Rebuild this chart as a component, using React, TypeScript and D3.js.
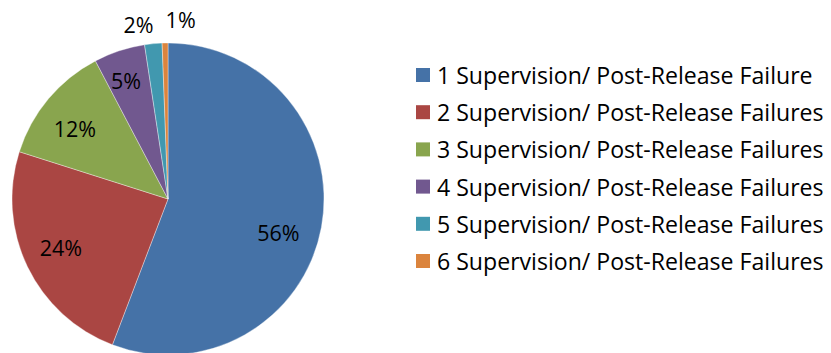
import React from "react";
import * as d3 from "d3";

const categories = [
  "1 Supervision/ Post-Release Failure",
  "2 Supervision/ Post-Release Failures",
  "3 Supervision/ Post-Release Failures",
  "4 Supervision/ Post-Release Failures",
  "5 Supervision/ Post-Release Failures",
  "6 Supervision/ Post-Release Failures",
];
const values = [55.8, 24.1, 12.4, 5.3, 1.8, 0.6];
const colors = ["#4572A7", "#AA4643", "#89A54E", "#71588F", "#4198AF", "#DB843D"];

// label layout (radius fraction and small nudges)
const labelRadius = [0.72, 0.72, 0.72, 0.8, 1.13, 1.15];
const labelNudge: [number, number][] = [[0, 13], [-6, 0], [-7, 2], [-3, 0], [-13, 1], [16, 0]];

const W = 831;
const H = 353;
const cx = 168;
const cy = 199;
const R = 156;
const FONT = "'Open Sans', 'Noto Sans', sans-serif";

export default function App() {
  const total = d3.sum(values);
  const pie = d3.pie<number>().sort(null).value((d) => d);
  const arcs = pie(values);
  const arc = d3.arc<d3.PieArcDatum<number>>().innerRadius(0).outerRadius(R);

  const legendY = d3.scalePoint<number>().domain(d3.range(categories.length)).range([75, 261]);

  return (
    <svg width={W} height={H} style={{ position: "absolute", left: 0, top: 0, background: "#fff" }}>
      <g transform={`translate(${cx},${cy})`}>
        {arcs.map((a, i) => (
          <path key={i} d={arc(a) || ""} fill={colors[i]} stroke="#ffffff" strokeWidth={0.6} strokeOpacity={0.6} />
        ))}
        {arcs.map((a, i) => {
          const r = R * labelRadius[i];
          const la = d3.arc<d3.PieArcDatum<number>>().innerRadius(r).outerRadius(r);
          const [x, y] = la.centroid(a);
          return (
            <text
              key={i}
              x={x + labelNudge[i][0]}
              y={y + labelNudge[i][1]}
              textAnchor="middle"
              dominantBaseline="central"
              fontFamily={FONT}
              fontSize={21.5}
              fill="#000"
            >
              {`${Math.round((values[i] / total) * 100)}%`}
            </text>
          );
        })}
      </g>
      <g>
        {categories.map((c, i) => (
          <g key={i} transform={`translate(416,${legendY(i)})`}>
            <rect x={0} y={-7} width={14} height={14} fill={colors[i]} />
            <text x={21} y={0} dominantBaseline="central" fontFamily={FONT} fontSize={23.1} fill="#000">
              {c}
            </text>
          </g>
        ))}
      </g>
    </svg>
  );
}
